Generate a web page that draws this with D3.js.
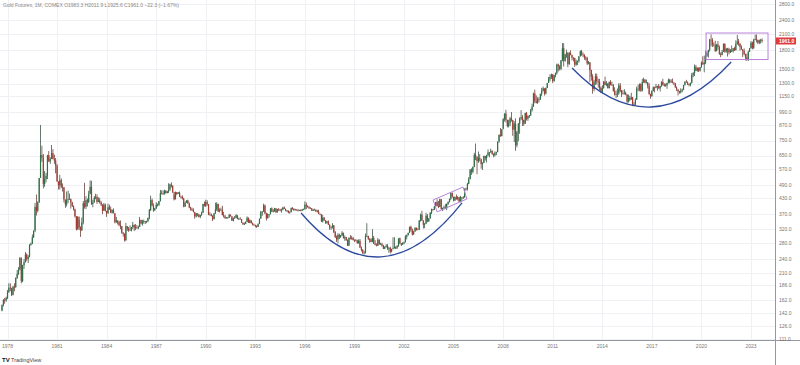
<!DOCTYPE html>
<html><head><meta charset="utf-8">
<script src="https://cdn.jsdelivr.net/npm/d3@7/dist/d3.min.js"></script>
<style>
html,body{margin:0;padding:0;background:#fff;}
svg{display:block;font-family:"Liberation Sans",Arial,sans-serif;}
</style></head>
<body>
<svg id="chart" width="800" height="365"></svg>
<script>
// ---- DATA (monthly bars, starting Sep 1977) ----
const startYear = 1977, startMonth = 8; // 0-based month (Sep)
const firstOpen = 146;
const closes = [
154,162,161,165,
175,182,181,170,184,183,200,208,217,242,194,226,
233,251,240,245,275,278,296,315,397,382,415,524,
653,637,494,518,535,653,614,631,666,629,619,590,
506,489,513,482,479,426,406,425,428,427,414,400,
387,362,320,361,325,317,342,411,397,423,416,448,
481,408,414,433,437,416,422,414,405,382,405,382,
373,395,388,375,384,373,342,348,344,333,329,309,
306,288,329,322,316,317,327,333,325,325,324,327,
350,338,344,346,343,346,357,385,423,401,383,391,
405,405,419,452,451,448,463,453,460,469,492,486,
458,426,457,449,455,437,436,429,397,412,422,410,
394,387,383,378,362,373,368,360,367,375,408,401,
415,407,368,368,363,352,372,387,408,379,384,386,
366,362,356,358,357,367,362,347,355,357,366,353,
354,353,341,336,337,343,357,340,349,339,334,333,
330,327,337,354,378,378,402,372,355,370,370,391,
379,381,391,376,387,386,384,386,394,389,383,383,
375,376,392,389,385,387,383,383,384,382,387,387,
405,400,396,392,391,382,385,386,379,379,371,369,
345,358,348,340,345,334,326,325,332,311,296,290,
303,297,301,309,293,296,288,273,294,292,294,288,
287,287,280,286,268,262,255,255,299,300,292,290,
283,294,278,275,273,289,276,277,273,265,270,273,
266,267,258,264,266,270,265,273,293,279,275,279,
282,297,302,309,327,318,304,312,324,317,319,347,
368,347,334,337,364,346,354,375,388,386,398,416,
400,397,427,388,393,395,391,408,416,428,453,438,
422,436,429,435,417,436,429,434,473,470,495,518,
569,556,583,655,643,616,634,626,599,606,648,635,
652,670,669,680,660,652,667,673,744,795,783,838,
924,975,917,864,886,930,914,834,884,718,816,884,
928,942,916,884,980,927,954,955,1008,1040,1182,1097,
1081,1118,1113,1180,1213,1244,1181,1248,1308,1357,1385,1421,
1333,1411,1439,1564,1536,1500,1628,1829,1620,1725,1746,1566,
1740,1711,1669,1664,1561,1604,1614,1692,1776,1719,1713,1675,
1664,1578,1596,1476,1393,1234,1323,1396,1327,1323,1250,1202,
1244,1326,1284,1296,1246,1322,1282,1287,1210,1171,1175,1184,
1278,1213,1183,1182,1189,1172,1094,1132,1114,1141,1064,1060,
1116,1238,1234,1291,1215,1320,1351,1311,1316,1273,1173,1152,
1211,1254,1251,1268,1269,1242,1269,1321,1284,1271,1277,1309,
1345,1318,1327,1315,1305,1253,1233,1206,1196,1215,1226,1282,
1325,1316,1298,1285,1311,1413,1437,1529,1472,1514,1473,1523,
1589,1566,1596,1694,1751,1800,1986,1975,1895,1879,1780,1895,
1850,1729,1716,1768,1905,1771,1817,1818,1757,1784,1776,1829,
1796,1909,1954,1911,1849,1807,1782,1726,1672,1640,1768,1826,
1928,1836,1986,1999,1982,1929,1970,1983.3,1961.0
];
const highs = [
155,163,165,167,
178,190,190,182,185,190,201,216,222,245,244,227,
240,257,253,249,277,281,304,316,412,447,418,524,
873,715,660,560,550,655,679,639,720,692,656,635,
599,507,540,522,497,479,425,460,464,451,430,416,
402,390,363,362,350,329,358,420,500,440,430,463,
512,510,425,440,450,448,435,433,419,407,412,410,
378,409,405,398,387,391,373,360,348,347,348,330,
311,307,340,330,327,332,327,343,335,336,333,331,
360,350,350,351,346,347,357,389,442,430,410,393,
415,410,420,467,465,465,468,466,463,498,496,502,
488,445,460,458,457,460,442,443,433,418,423,425,
414,397,394,391,376,374,372,371,368,379,408,418,
425,423,407,377,372,366,374,413,415,409,391,394,
401,378,367,359,360,371,369,362,358,363,370,365,
357,359,352,341,341,345,362,358,352,346,341,337,
334,332,338,354,382,381,409,406,375,373,370,392,
395,388,393,392,389,392,389,390,397,398,390,384,
382,380,394,396,392,389,386,389,386,387,389,390,
418,414,403,399,395,392,389,390,387,385,386,372,
369,367,358,349,347,348,335,329,339,333,314,301,
308,306,303,314,309,301,297,290,296,302,300,297,
290,291,289,290,291,271,264,260,307,339,300,293,
293,320,300,288,279,294,290,281,281,275,271,277,
277,270,270,265,296,296,271,274,293,295,280,282,
284,302,304,309,328,331,322,315,326,325,323,350,
372,382,349,340,375,370,356,377,390,389,400,416,
427,420,429,427,393,402,408,410,418,430,456,456,
428,438,447,440,437,441,428,440,473,477,500,528,
569,575,585,668,730,645,676,659,632,609,650,641,
655,690,673,695,684,664,677,675,744,795,848,838,
932,975,1011,919,917,944,989,918,906,931,825,889,
939,1007,962,920,982,990,957,961,1020,1072,1193,1227,
1161,1141,1141,1178,1249,1265,1213,1252,1310,1387,1423,1432,
1424,1414,1447,1577,1577,1552,1632,1923,1920,1725,1804,1763,
1763,1791,1718,1677,1667,1639,1625,1693,1790,1798,1755,1726,
1694,1683,1617,1598,1487,1424,1348,1434,1432,1362,1362,1266,
1280,1332,1392,1331,1310,1325,1345,1324,1292,1255,1218,1240,
1307,1307,1224,1224,1232,1205,1174,1170,1157,1191,1142,1088,
1128,1263,1287,1303,1305,1362,1377,1358,1352,1318,1306,1181,
1220,1264,1262,1297,1274,1296,1274,1331,1362,1306,1300,1310,
1366,1361,1356,1366,1316,1308,1265,1221,1214,1243,1238,1284,
1326,1349,1328,1301,1311,1442,1453,1565,1557,1518,1519,1527,
1611,1691,1704,1788,1775,1800,2001,2089,2015,1935,1966,1908,
1960,1875,1755,1799,1916,1919,1836,1834,1837,1814,1877,1831,
1855,1974,2078,2000,1918,1879,1813,1824,1735,1736,1786,1834,
1959,1949,2003,2085,2085,1985,1987,1997,2011.9
];
const lows = [
145,152,156,159,
163,173,176,168,169,176,182,198,206,215,190,192,
218,232,235,231,244,273,277,294,311,365,376,412,
538,612,474,481,502,518,612,600,628,627,600,548,
506,469,469,475,460,414,393,398,412,425,390,396,
383,358,316,318,317,297,314,335,390,388,398,411,
450,404,395,413,427,408,415,409,400,370,382,379,
360,371,385,373,372,373,338,340,335,329,320,306,
298,284,285,315,312,316,313,320,314,317,321,320,
327,335,331,337,336,339,342,352,381,399,378,383,
389,398,400,418,447,445,447,451,452,453,463,478,
453,422,428,444,451,436,430,426,395,398,412,409,
392,383,382,376,354,358,362,358,356,364,374,398,
396,401,366,366,362,346,352,371,381,378,376,382,
366,358,353,354,354,357,362,346,345,354,356,352,
350,351,340,333,333,336,344,341,339,338,332,331,
326,324,327,337,354,364,380,370,348,355,358,369,
377,376,378,374,376,381,380,375,384,388,380,377,
373,372,378,386,381,383,383,380,381,380,381,385,
387,388,394,388,390,382,381,384,378,377,370,366,
343,341,348,337,337,333,318,318,322,308,294,283,
279,291,294,300,293,286,286,272,272,290,289,287,
283,285,278,278,267,258,252,251,253,297,288,281,
282,282,277,274,271,272,276,275,270,264,264,268,
262,255,253,256,264,266,265,270,270,277,272,277,
277,282,290,301,309,312,301,303,313,316,318,317,
344,347,322,323,337,342,343,355,370,382,385,398,
398,392,396,386,381,386,390,384,404,414,423,433,
418,420,425,422,416,414,419,430,434,464,464,493,
518,540,548,581,622,543,606,614,573,566,605,620,
608,645,639,670,655,640,644,653,671,736,780,784,
845,903,895,853,853,863,902,786,741,681,704,746,
801,913,864,866,883,912,908,935,955,994,1041,1076,
1075,1071,1085,1117,1152,1206,1159,1173,1245,1315,1327,1361,
1308,1326,1381,1418,1462,1478,1478,1612,1535,1605,1667,1523,
1564,1710,1627,1611,1527,1546,1554,1590,1689,1700,1676,1635,
1626,1554,1566,1322,1338,1180,1207,1284,1290,1251,1221,1187,
1182,1240,1280,1268,1240,1240,1281,1273,1204,1160,1131,1142,
1167,1197,1142,1169,1170,1162,1077,1084,1097,1114,1046,1046,
1061,1111,1208,1208,1200,1206,1310,1303,1304,1241,1171,1124,
1146,1208,1195,1243,1215,1238,1205,1262,1277,1263,1264,1237,
1302,1303,1309,1303,1281,1251,1211,1160,1180,1183,1196,1221,
1278,1311,1282,1266,1268,1300,1383,1400,1465,1460,1454,1460,
1517,1559,1450,1568,1680,1671,1771,1863,1851,1859,1764,1775,
1802,1717,1677,1707,1766,1750,1751,1687,1722,1746,1762,1753,
1781,1788,1890,1872,1786,1804,1680,1709,1626,1618,1617,1763,
1826,1809,1813,1975,1934,1900,1903,1913,1925.6
];
const priceTicks = [2800,2400,2100,1800,1500,1300,1150,990,870,750,650,570,490,430,370,320,280,240,210,186,162,142,126,111];
const yearTicks = [1978,1981,1984,1987,1990,1993,1996,1999,2002,2005,2008,2011,2014,2017,2020,2023];
const titleText = "Gold Futures, 1M, COMEX  O1983.3  H2011.9  L1925.6  C1961.0  \u221222.3 (\u22121.67%)";
const lastPrice = 1961.0;
// annotations in data space [decimal year, price]
const arc1 = [[1995.77, 374], [2000.61, 245], [2005.51, 412]];
const arc2 = [[2012.17, 1511], [2016.95, 1038], [2021.80, 1601]];
const tiltedBox = [[2003.76, 424], [2005.57, 480], [2005.81, 428], [2004.00, 378]];
const rangeBox = {t0: 2020.28, t1: 2024.03, top: 2117, bottom: 1640};

// ---- SCALES ----
const W = 800, H = 365, axisX = 775, axisY = 340;
const x = d3.scaleLinear().domain([1978, 2023]).range([7.5, 751]);
const y = d3.scaleLog().domain([2910, 110]).range([0, axisY]);

const bars = closes.map((c, i) => ({
  t: startYear + (startMonth + i) / 12,
  o: i === 0 ? firstOpen : closes[i - 1],
  h: highs[i], l: lows[i], c: c
}));

const svg = d3.select("#chart");
svg.append("rect").attr("width", W).attr("height", H).attr("fill", "#fff");

// grid
const grid = svg.append("g");
grid.selectAll("line.h").data(priceTicks).join("line")
  .attr("x1", 0).attr("x2", axisX)
  .attr("y1", d => Math.round(y(d)) + 0.5).attr("y2", d => Math.round(y(d)) + 0.5)
  .attr("stroke", "#eef0f4").attr("stroke-width", 1);
grid.selectAll("line.v").data(yearTicks).join("line")
  .attr("y1", 0).attr("y2", axisY)
  .attr("x1", d => Math.round(x(d)) + 0.5).attr("x2", d => Math.round(x(d)) + 0.5)
  .attr("stroke", "#eef0f4").attr("stroke-width", 1);

// candles
const upCol = "#2e7048", dnCol = "#a63a30";
const cg = svg.append("g");
cg.selectAll("rect.wick").data(bars).join("rect")
  .attr("x", d => x(d.t) - 0.35).attr("width", 0.7)
  .attr("y", d => y(d.h)).attr("height", d => Math.max(0.5, y(d.l) - y(d.h)))
  .attr("fill", d => d.c >= d.o ? "#24402e" : "#5a2a24");
cg.selectAll("rect.body").data(bars).join("rect")
  .attr("x", d => x(d.t) - 0.6).attr("width", 1.2)
  .attr("y", d => y(Math.max(d.o, d.c)))
  .attr("height", d => Math.max(0.7, Math.abs(y(d.o) - y(d.c))))
  .attr("fill", d => d.c >= d.o ? upCol : dnCol);

// arcs (quadratic through start, vertex, end)
function arcPath(pts) {
  const p = pts.map(d => [x(d[0]), y(d[1])]);
  const cx = 2 * p[1][0] - (p[0][0] + p[2][0]) / 2;
  const cy = 2 * p[1][1] - (p[0][1] + p[2][1]) / 2;
  return `M${p[0][0]},${p[0][1]} Q${cx},${cy} ${p[2][0]},${p[2][1]}`;
}
[arc1, arc2].forEach(a => svg.append("path").attr("d", arcPath(a))
  .attr("fill", "none").attr("stroke", "#2c4a9e").attr("stroke-width", 1.3));

// purple boxes
const purple = "#b981dc";
svg.append("polygon")
  .attr("points", tiltedBox.map(d => [x(d[0]), y(d[1])].join(",")).join(" "))
  .attr("fill", "none").attr("stroke", purple).attr("stroke-width", 1);
svg.append("rect")
  .attr("x", x(rangeBox.t0)).attr("y", y(rangeBox.top))
  .attr("width", x(rangeBox.t1) - x(rangeBox.t0)).attr("height", y(rangeBox.bottom) - y(rangeBox.top))
  .attr("fill", "none").attr("stroke", purple).attr("stroke-width", 1);

// axes lines
svg.append("line").attr("x1", axisX + 0.5).attr("x2", axisX + 0.5).attr("y1", 0).attr("y2", H)
  .attr("stroke", "#9598a1");
svg.append("line").attr("x1", 0).attr("x2", W).attr("y1", axisY + 0.5).attr("y2", axisY + 0.5)
  .attr("stroke", "#9598a1");

// price labels
svg.append("g").selectAll("text").data(priceTicks).join("text")
  .attr("x", 779).attr("y", d => y(d)).attr("dy", "0.35em")
  .attr("font-size", 5).attr("fill", "#777").text(d => d.toFixed(1));
// last price label
const ly = y(lastPrice);
svg.append("rect").attr("x", axisX + 1).attr("y", ly - 3.5).attr("width", 20).attr("height", 7)
  .attr("fill", "#e0393e");
svg.append("text").attr("x", 779).attr("y", ly).attr("dy", "0.35em")
  .attr("font-size", 5).attr("font-weight", "bold").attr("fill", "#fff").text(lastPrice.toFixed(1));

// year labels
svg.append("g").selectAll("text").data(yearTicks).join("text")
  .attr("x", d => x(d)).attr("y", 348).attr("text-anchor", "middle")
  .attr("font-size", 5).attr("fill", "#777").text(d => d);

// title
svg.append("text").attr("x", 3).attr("y", 7).attr("font-size", 5).attr("fill", "#888").text(titleText);

// watermark
svg.append("text").attr("x", 2).attr("y", 362).attr("font-size", 6).attr("font-weight", "bold")
  .attr("fill", "#131722").text("TV");
svg.append("text").attr("x", 11).attr("y", 362).attr("font-size", 5.5)
  .attr("fill", "#444").text("TradingView");
</script>
</body></html>
